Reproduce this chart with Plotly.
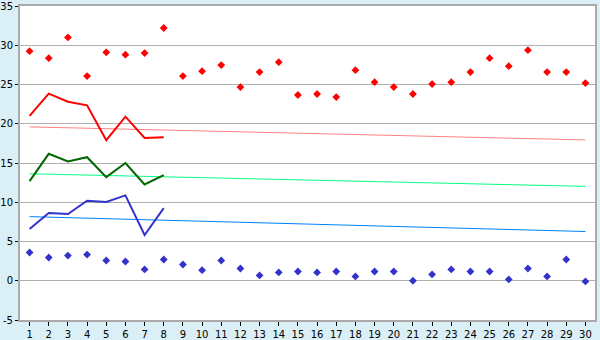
import plotly.graph_objects as go

days = list(range(1, 31))
tmax = [29.25, 28.35, 31.0, 26.07, 29.1, 28.8, 29.0, 32.2, 26.07, 26.7,
        27.47, 24.67, 26.58, 27.85, 23.66, 23.79, 23.4, 26.83, 25.3, 24.67,
        23.79, 25.05, 25.3, 26.58, 28.35, 27.34, 29.37, 26.58, 26.58, 25.18]
tmin = [3.6, 2.96, 3.21, 3.34, 2.58, 2.45, 1.44, 2.71, 2.07, 1.35,
        2.58, 1.56, 0.68, 1.06, 1.18, 1.06, 1.18, 0.55, 1.18, 1.18,
        0.0, 0.81, 1.44, 1.18, 1.18, 0.17, 1.56, 0.55, 2.71, -0.08]
line_days = [1, 2, 3, 4, 5, 6, 7, 8]
red_line = [21.0, 23.83, 22.8, 22.34, 17.9, 20.9, 18.2, 18.28]
green_line = [12.7, 16.17, 15.2, 15.74, 13.2, 15.0, 12.27, 13.45]
blue_line = [6.6, 8.63, 8.5, 10.2, 10.03, 10.87, 5.83, 9.26]
trend_x = [1, 30]
red_trend = [19.6, 17.94]
green_trend = [13.63, 12.02]
blue_trend = [8.17, 6.27]
y_ticks = [-5, 0, 5, 10, 15, 20, 25, 30, 35]
y_tick_text = ["-5", "0", "5", "10", "15", "20", "25", "30", "35"]

fig = go.Figure()
fig.add_trace(go.Scatter(x=trend_x, y=red_trend, mode="lines", line=dict(color="#FF8080", width=1)))
fig.add_trace(go.Scatter(x=trend_x, y=green_trend, mode="lines", line=dict(color="#00FF80", width=1)))
fig.add_trace(go.Scatter(x=trend_x, y=blue_trend, mode="lines", line=dict(color="#0080FF", width=1)))
fig.add_trace(go.Scatter(x=line_days, y=red_line, mode="lines", line=dict(color="#FF0000", width=2)))
fig.add_trace(go.Scatter(x=line_days, y=green_line, mode="lines", line=dict(color="#006600", width=2)))
fig.add_trace(go.Scatter(x=line_days, y=blue_line, mode="lines", line=dict(color="#3333CC", width=2)))
fig.add_trace(go.Scatter(x=days, y=tmax, mode="markers",
                         marker=dict(symbol="diamond", size=6, color="#FF0000")))
fig.add_trace(go.Scatter(x=days, y=tmin, mode="markers",
                         marker=dict(symbol="diamond", size=6, color="#3333CC")))

fig.update_layout(
    width=600, height=340,
    margin=dict(l=20, r=5, t=6, b=20),
    paper_bgcolor="#DAEFF6", plot_bgcolor="#FFFFFF",
    showlegend=False,
    font=dict(family="DejaVu Sans", size=10, color="#000000"),
)
fig.update_xaxes(
    range=[0.5, 30.5], tickmode="array", tickvals=days,
    ticks="outside", ticklen=4, tickcolor="#000000", automargin=False,
    showgrid=False, zeroline=False,
    showline=True, linecolor="#AAAAAA", linewidth=2, mirror=True,
)
fig.update_yaxes(
    range=[-5, 35], tickmode="array", tickvals=y_ticks, ticktext=y_tick_text,
    ticks="outside", ticklen=3, tickcolor="#000000", automargin=False,
    ticklabeloverflow="allow",
    showgrid=True, gridcolor="#B0B0B0", gridwidth=1, zeroline=False,
    showline=True, linecolor="#AAAAAA", linewidth=2, mirror=True,
)
fig.write_html("out.html")
